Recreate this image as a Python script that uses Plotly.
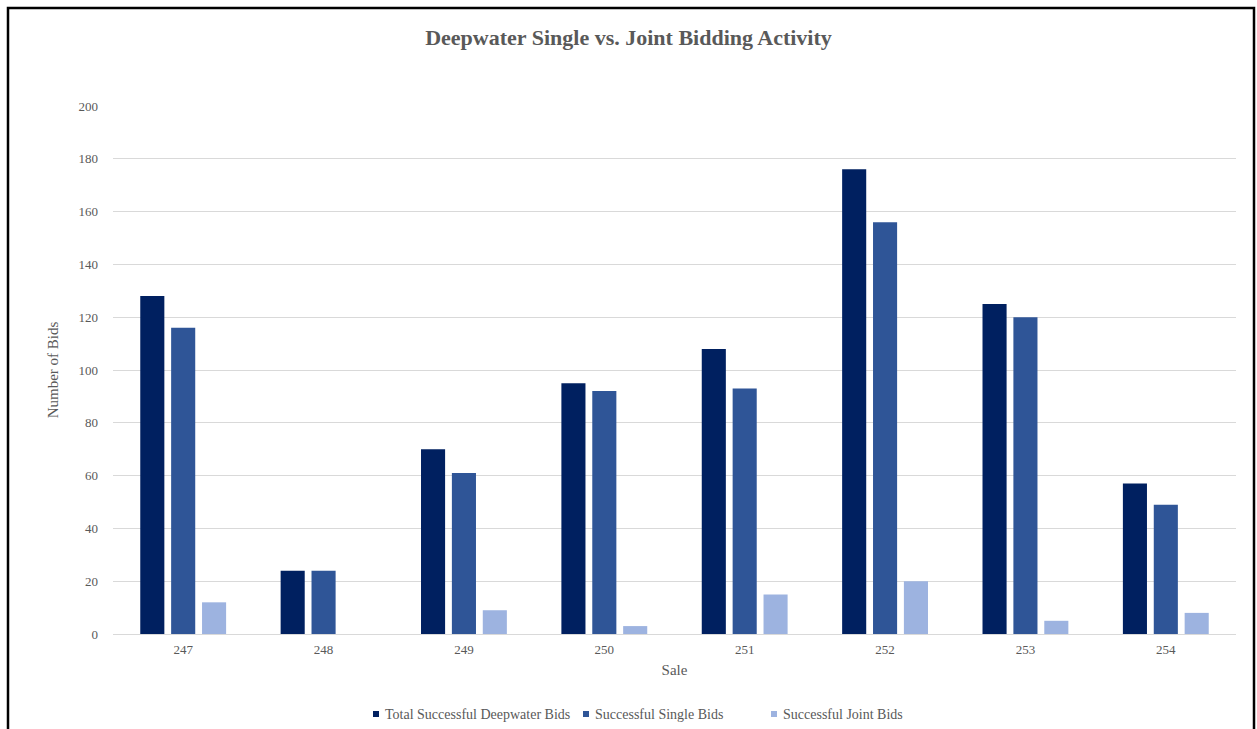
import plotly.graph_objects as go

# Lease sale numbers and bid counts
sales = ["247", "248", "249", "250", "251", "252", "253", "254"]
total_deepwater = [128, 24, 70, 95, 108, 176, 125, 57]
single_bids = [116, 24, 61, 92, 93, 156, 120, 49]
joint_bids = [12, 0, 9, 3, 15, 20, 5, 8]

series_names = [
    "Total Successful Deepwater Bids",
    "Successful Single Bids",
    "Successful Joint Bids",
]
colors = ["#002060", "#2F5597", "#9DB3E0"]

W, H = 1257, 729
ML, MR, MT, MB = 113, 21, 106, 95
PW, PH = W - ML - MR, H - MT - MB

FONT = "Liberation Serif, Times New Roman, serif"
GRAY = "#595959"

fig = go.Figure()
for name, vals, col in zip(series_names, [total_deepwater, single_bids, joint_bids], colors):
    fig.add_trace(go.Bar(x=sales, y=vals, name=name, showlegend=False,
                         marker=dict(color=col, line=dict(width=0))))


def px_to_paper_x(px):
    return (px - ML) / PW


def px_to_paper_y(py):
    return (H - MB - py) / PH


# Legend row beneath the chart: small square swatch followed by the series name
legend_x = [376, 586, 774]
legend_y = 714
shapes = []
annotations = []
for name, col, lx in zip(series_names, colors, legend_x):
    shapes.append(dict(
        type="rect", xref="paper", yref="paper",
        x0=px_to_paper_x(lx - 3), x1=px_to_paper_x(lx + 3),
        y0=px_to_paper_y(legend_y + 3), y1=px_to_paper_y(legend_y - 3),
        line=dict(width=0), fillcolor=col,
    ))
    annotations.append(dict(
        text=name, xref="paper", yref="paper",
        x=px_to_paper_x(lx + 7), y=px_to_paper_y(legend_y),
        xanchor="left", yanchor="middle", showarrow=False,
        font=dict(family=FONT, size=14, color=GRAY),
    ))

# Outer frame around the whole chart
shapes.append(dict(
    type="rect", xref="paper", yref="paper",
    x0=px_to_paper_x(8), x1=px_to_paper_x(1254),
    y0=px_to_paper_y(745), y1=px_to_paper_y(8),
    line=dict(color="black", width=2.5),
    fillcolor="rgba(0,0,0,0)", layer="above",
))

fig.update_layout(
    width=W,
    height=H,
    margin=dict(l=ML, r=MR, t=MT, b=MB, pad=0, autoexpand=False),
    paper_bgcolor="white",
    plot_bgcolor="white",
    barmode="group",
    bargap=0.34,
    bargroupgap=0.22,
    font=dict(family=FONT, color=GRAY, size=13),
    title=dict(
        text="<b>Deepwater Single vs. Joint Bidding Activity</b>",
        x=0.5,
        xanchor="center",
        y=1 - 37 / H,
        yanchor="middle",
        font=dict(family=FONT, size=22, color=GRAY),
    ),
    xaxis=dict(
        type="category",
        showgrid=False,
        showline=True,
        linecolor="#D9D9D9",
        linewidth=1,
        ticks="",
        ticklabelstandoff=3,
        tickfont=dict(size=13, color=GRAY),
        title=dict(text="Sale", font=dict(size=15, color=GRAY), standoff=8),
    ),
    yaxis=dict(
        range=[0, 200],
        dtick=20,
        showgrid=True,
        gridcolor="#D9D9D9",
        gridwidth=1,
        zeroline=False,
        showline=False,
        ticks="",
        ticklabelstandoff=14,
        tickfont=dict(size=13, color=GRAY),
        title=dict(text="Number of Bids", font=dict(size=15, color=GRAY), standoff=16),
    ),
    showlegend=False,
    shapes=shapes,
    annotations=annotations,
)

fig.write_html("out.html")
